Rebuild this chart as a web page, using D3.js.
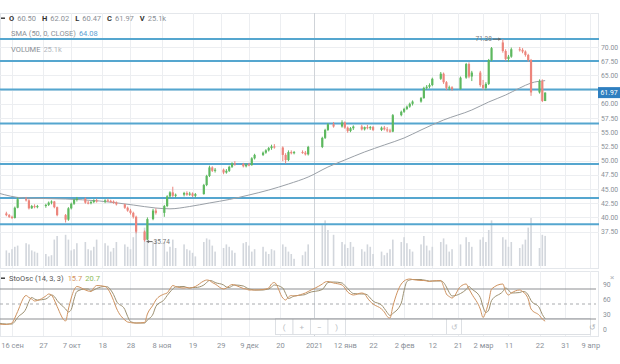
<!DOCTYPE html>
<html><head><meta charset="utf-8">
<script src="https://cdn.jsdelivr.net/npm/d3@7"></script>
<style>
body{margin:0;background:#fff}
svg{display:block;font-family:Roboto,"Noto Sans",sans-serif}
</style>
</head><body>
<svg id="c" width="620" height="364"></svg>
<script>
// ---------- DATA ----------
const dates = [
"2020-09-11","2020-09-14","2020-09-15","2020-09-16","2020-09-17","2020-09-18",
"2020-09-21","2020-09-22","2020-09-23","2020-09-24","2020-09-25",
"2020-09-28","2020-09-29","2020-09-30","2020-10-01","2020-10-02",
"2020-10-05","2020-10-06","2020-10-07","2020-10-08","2020-10-09",
"2020-10-12","2020-10-13","2020-10-14","2020-10-15","2020-10-16",
"2020-10-19","2020-10-20","2020-10-21","2020-10-22","2020-10-23",
"2020-10-26","2020-10-27","2020-10-28","2020-10-29","2020-10-30",
"2020-11-02","2020-11-03","2020-11-05","2020-11-06",
"2020-11-09","2020-11-10","2020-11-11","2020-11-12","2020-11-13",
"2020-11-16","2020-11-17","2020-11-18","2020-11-19","2020-11-20",
"2020-11-23","2020-11-24","2020-11-25","2020-11-26","2020-11-27",
"2020-11-30","2020-12-01","2020-12-02","2020-12-03","2020-12-04",
"2020-12-07","2020-12-08","2020-12-09","2020-12-10","2020-12-11",
"2020-12-14","2020-12-15","2020-12-16","2020-12-17","2020-12-18",
"2020-12-21","2020-12-22","2020-12-23","2020-12-24","2020-12-25",
"2020-12-28","2020-12-29","2020-12-30",
"2021-01-04","2021-01-05","2021-01-06","2021-01-08",
"2021-01-11","2021-01-12","2021-01-13","2021-01-14","2021-01-15",
"2021-01-18","2021-01-19","2021-01-20","2021-01-21","2021-01-22",
"2021-01-25","2021-01-26","2021-01-27","2021-01-28","2021-01-29",
"2021-02-01","2021-02-02","2021-02-03","2021-02-04","2021-02-05",
"2021-02-08","2021-02-09","2021-02-10","2021-02-11","2021-02-12",
"2021-02-15","2021-02-16","2021-02-17","2021-02-18","2021-02-19",
"2021-02-22","2021-02-24","2021-02-25","2021-02-26",
"2021-03-01","2021-03-02","2021-03-03","2021-03-04","2021-03-05",
"2021-03-09","2021-03-10","2021-03-11","2021-03-12",
"2021-03-15","2021-03-16","2021-03-17","2021-03-18","2021-03-19",
"2021-03-22","2021-03-23","2021-03-24"];

const open = [
41.0,40.7,40.4,40.1,39.9,41.7, 43.2,43.0,41.6,42.0,41.8, 42.0,42.2,42.6,42.8,41.8,
40.4,39.6,41.6,42.4,43.1, 43.3,42.6,42.5,42.7,43.0, 42.8,43.0,42.9,42.8,42.6,
42.3,41.7,41.2,40.8,40.1, 37.5,36.1,39.7,41.2, 40.8,42.0,43.7,44.4,43.8,
44.0,44.3,44.0,44.2,43.8, 44.1,45.7,47.3,48.8,48.2, 48.4,47.9,48.2,48.9,49.5,
49.4,49.0,49.3,49.2,50.4, 51.0,51.4,51.8,52.2,52.5, 52.3,51.0,50.1,51.5,51.3,
51.5,51.4,51.1, 52.4,54.0,55.4,56.4, 56.0,56.7,55.8,55.2,55.7,
56.0,55.5,55.9,55.7,55.9, 55.4,55.8,55.5,55.3,55.1, 58.0,58.6,59.1,59.5,60.0,
60.4,61.0,62.8,63.0,63.3, 64.4,65.3,63.8,62.8,62.9, 62.6,64.6,67.0,64.8,
65.5,63.3,62.8,63.5,67.7, 70.8,69.3,67.9,68.3, 69.6,69.5,69.2,68.6,67.7,
62.0,64.0,60.50];
const high = [
41.3,41.0,40.6,40.3,41.9,43.5, 43.6,43.2,42.2,42.3,42.2, 42.4,42.8,43.0,42.9,41.9,
40.6,41.8,42.6,43.3,43.6, 43.5,42.9,42.9,43.2,43.3, 43.2,43.3,43.1,43.0,42.8,
42.4,41.9,41.5,41.0,40.3, 37.7,40.0,41.5,41.6, 42.2,43.9,44.6,45.4,44.2,
44.5,44.6,44.5,44.4,44.3, 45.9,47.5,49.1,49.0,48.7, 48.6,48.5,49.1,49.7,49.9,
49.6,49.5,49.6,50.6,51.2, 51.6,52.0,52.4,52.8,52.9, 52.5,51.3,51.8,51.8,51.7,
51.8,51.7,52.6, 54.2,55.6,56.6,56.8, 57.1,56.9,56.0,55.9,56.2,
56.3,56.0,56.3,56.1,56.1, 56.0,56.1,55.9,55.6,58.2, 58.8,59.3,59.7,60.2,60.6,
61.2,63.0,63.3,63.6,64.6, 65.6,65.5,64.0,63.2,63.1, 64.8,67.2,67.3,65.8,
65.8,64.2,63.8,67.9,70.0, 71.38,69.6,68.6,69.9, 70.0,69.8,69.4,68.8,67.9,
64.3,64.3,62.02];
const low = [
40.5,40.2,39.9,39.7,39.8,41.6, 42.8,41.4,41.5,41.6,41.6, 41.7,42.0,42.3,41.6,40.2,
39.1,39.4,41.4,42.2,42.8, 42.4,42.3,42.3,42.5,42.6, 42.5,42.7,42.6,42.4,42.1,
41.5,41.0,40.5,39.8,37.2, 35.74,36.0,39.5,40.5, 40.1,41.8,43.4,43.6,43.5,
43.7,43.8,43.8,43.6,43.5, 44.0,45.5,47.1,48.0,47.9, 47.6,47.7,48.0,48.7,49.1,
48.8,48.8,49.0,49.1,50.2, 50.8,51.2,51.6,51.9,52.1, 49.9,49.5,49.9,51.1,51.1,
51.2,50.9,50.9, 52.2,53.8,55.2,55.8, 55.8,55.6,54.9,55.0,55.4,
55.3,55.3,55.5,55.4,55.2, 55.2,55.3,55.0,54.9,55.0, 57.8,58.4,58.9,59.3,59.7,
60.2,60.9,62.5,62.7,63.1, 64.2,63.5,62.4,62.4,62.3, 62.5,64.4,64.5,64.0,
63.0,62.5,62.4,63.3,67.5, 69.0,67.6,67.4,68.1, 69.2,68.9,68.3,67.4,61.4,
61.8,60.3,60.47];
const close = [
40.7,40.4,40.1,39.9,41.7,43.2, 43.0,41.6,42.0,41.8,42.0, 42.2,42.6,42.8,41.8,40.4,
39.6,41.6,42.4,43.1,43.3, 42.6,42.5,42.7,43.0,42.8, 43.0,42.9,42.8,42.6,42.3,
41.7,41.2,40.8,40.1,37.5, 36.0,39.7,41.2,40.8, 42.0,43.7,44.4,43.8,44.0,
44.3,44.0,44.2,43.8,44.1, 45.7,47.3,48.8,48.2,48.4, 47.9,48.2,48.9,49.5,49.4,
49.0,49.3,49.2,50.4,51.0, 51.4,51.8,52.2,52.5,52.3, 51.0,50.1,51.5,51.3,51.5,
51.4,51.1,52.4, 54.0,55.4,56.4,56.0, 56.7,55.8,55.2,55.7,56.0,
55.5,55.9,55.7,55.9,55.4, 55.8,55.5,55.3,55.1,58.0, 58.6,59.1,59.5,60.0,60.4,
61.0,62.8,63.0,63.3,64.4, 65.3,63.8,62.8,62.9,62.6, 64.6,67.0,64.8,65.5,
63.3,62.8,63.5,67.7,69.8, 69.3,67.9,68.3,69.6, 69.5,69.2,68.6,67.7,62.0,
64.0,60.5,61.97];
// volume, thousands
const volume = [
12,13,11,14,16,17, 19,18,13,12,11, 10,8,9,22,25, 26,22,13,14,19, 20,14,13,16,22,
19,17,12,15,20, 18,16,14,24,30, 32,36,20,22, 20,12,16,22,15, 18,14,13,11,8,
20,23,22,17,12, 15,18,16,13,11, 19,20,17,12,14, 16,12,10,14,13, 18,16,12,10,6,
9,12,18, 34,38,30,26, 20,18,15,20,16, 14,12,18,16,10, 12,9,11,14,22,
20,24,19,14,12, 18,25,17,13,16, 20,23,18,12,14, 18,24,20,16,
22,24,20,30,38, 24,22,16,20, 15,18,22,32,40, 15,26,25.1];
// Stochastic %K and %D
const stochK = [
10,9,10,12,22,35, 67,63,60,56,57, 66,70,68,58,45, 16,40,62,78,85, 78,76,75,82,87,
85,80,70,57,42, 18,14,13,12,12, 13,30,48,58, 70,72,80,87,85, 82,83,82,83,85,
96,98,97,93,90, 80,82,86,89,88, 81,80,78,78,78, 79,80,82,90,93, 62,58,64,67,66,
70,72,75, 90,94,95,92, 88,82,74,70,68, 72,70,62,55,50, 40,34,25,22,45,
90,96,99,100,99, 97,97,96,95,96, 97,85,70,65,62, 85,90,80,70,
40,23,35,55,80, 90,75,68,72, 78,75,70,60,40, 27,20,15.7];
const stochD = [
12,10,10,10,15,23, 41,55,63,60,58, 60,64,68,65,57, 40,34,39,60,75, 80,80,76,78,81,
85,84,78,69,56, 39,25,15,13,12, 12,18,30,45, 59,67,74,80,84, 85,83,82,83,83,
88,93,97,96,93, 88,84,83,86,88, 86,83,80,79,78, 78,79,80,84,88, 82,71,61,63,66,
68,69,72, 79,86,93,94, 92,87,81,75,71, 70,70,68,62,56, 48,41,33,27,31,
52,77,95,98,99, 99,98,97,96,96, 96,93,84,73,66, 71,79,85,80,
63,44,33,38,57, 75,82,78,72, 73,75,74,68,57, 42,29,20.7];
// SMA(50)
const smaDates = ["2020-09-11","2020-09-20","2020-10-05","2020-10-17","2020-10-29","2020-11-06",
"2020-11-11","2020-11-18","2020-11-25","2020-12-02","2020-12-09","2020-12-16","2020-12-23",
"2020-12-30","2021-01-06","2021-01-12","2021-01-19","2021-01-26","2021-02-02","2021-02-08",
"2021-02-16","2021-02-26","2021-03-04","2021-03-10","2021-03-15","2021-03-19","2021-03-24"];
const smaValues = [44.30,43.42,43.24,42.89,42.18,41.65,41.51,41.92,42.54,43.15,43.94,44.82,45.88,
47.11,48.87,50.11,51.52,52.75,53.98,55.39,57.15,58.91,60.32,61.55,62.78,63.66,64.08];

const priceTicks = [70,67.5,65,62.5,60,57.5,55,52.5,50,47.5,45,42.5,40,37.5];
const priceLabelTicks = [70,67.5,65,60,57.5,55,52.5,50,47.5,45,42.5,40,37.5];
const levelLines = [71.41,67.54,62.52,56.53,49.4,43.4,38.8];
const xTickDates = ["2020-09-16","2020-09-27","2020-10-07","2020-10-18","2020-10-28","2020-11-08",
"2020-11-19","2020-11-29","2020-12-09","2020-12-20","2021-01-01","2021-01-12","2021-01-22",
"2021-02-02","2021-02-12","2021-02-21","2021-03-02","2021-03-11","2021-03-22","2021-03-31","2021-04-09"];
const xTickLabels = ["16 сен","27","7 окт","18","28","8 ноя","19","29","9 дек","20","2021","12 янв","22",
"2 фев","12","21","2 мар","11","22","31","9 апр"];
const stochTicks = [90,60,30,0];
const stochLevels = [80,20];
const stochMid = 50;

// ---------- SETUP ----------
const parse = d3.timeParse("%Y-%m-%d");
const bars = dates.map((d,i)=>({date:parse(d),o:open[i],h:high[i],l:low[i],c:close[i],v:volume[i],k:stochK[i],d:stochD[i]}));
const svg = d3.select("#c");
const PR = 599; // plot right
const MT = 13, MB = 268; // main panel top/bottom
const ST = 271, SB = 336; // stoch panel

const x = d3.scaleTime().domain([parse("2020-09-16"), parse("2021-03-22")]).range([12, 539.5]);
const y = d3.scaleLinear().domain([37.5,70]).range([231.6,47]);
const yv = d3.scaleLinear().domain([0,40]).range([266,218]);
const ys = d3.scaleLinear().domain([0,100]).range([329,279]);

const defs = svg.append("defs");
defs.append("clipPath").attr("id","mclip").append("rect").attr("x",0).attr("y",MT).attr("width",PR).attr("height",MB-MT);
defs.append("clipPath").attr("id","sclip").append("rect").attr("x",0).attr("y",ST).attr("width",PR-3).attr("height",SB-ST);

const tickDates = xTickDates.map(parse);
const gridC = "#eceef1";

// panel frames
svg.append("rect").attr("x",0.5).attr("y",MT+0.5).attr("width",PR-1).attr("height",MB-MT).attr("fill","none").attr("stroke","#e4e7eb");
svg.append("rect").attr("x",0.5).attr("y",ST+0.5).attr("width",PR-1).attr("height",SB-ST).attr("fill","none").attr("stroke","#e4e7eb");

// grid
const grid = svg.append("g");
grid.selectAll(".hg").data(priceTicks).join("line")
  .attr("x1",0).attr("x2",PR).attr("y1",d=>Math.round(y(d))+0.5).attr("y2",d=>Math.round(y(d))+0.5)
  .attr("stroke",gridC);
grid.selectAll(".vg").data(tickDates.filter(d=>x(d)<PR)).join("line")
  .attr("x1",d=>Math.round(x(d))+0.5).attr("x2",d=>Math.round(x(d))+0.5)
  .attr("y1",MT).attr("y2",MB).attr("stroke",(d,i)=>xTickLabels[i]==="2021"?"#cfd3d8":gridC);
grid.selectAll(".vgs").data(tickDates.filter(d=>x(d)<PR-3)).join("line")
  .attr("x1",d=>Math.round(x(d))+0.5).attr("x2",d=>Math.round(x(d))+0.5)
  .attr("y1",ST).attr("y2",SB).attr("stroke",(d,i)=>xTickLabels[i]==="2021"?"#cfd3d8":gridC);

// main content
const main = svg.append("g").attr("clip-path","url(#mclip)");
main.selectAll(".vol").data(bars).join("rect")
  .attr("x",d=>x(d.date)-0.8).attr("width",1.6)
  .attr("y",d=>yv(d.v)).attr("height",d=>yv(0)-yv(d.v))
  .attr("fill","#d2d6dc");

main.selectAll(".lvl").data(levelLines).join("line")
  .attr("x1",0).attr("x2",PR).attr("y1",d=>y(d)).attr("y2",d=>y(d))
  .attr("stroke","#55a6cf").attr("stroke-width",2);

const smaData = smaDates.map((d,i)=>({date:parse(d),v:smaValues[i]}));
main.append("path").datum(smaData)
  .attr("d",d3.line().x(d=>x(d.date)).y(d=>y(d.v)).curve(d3.curveMonotoneX))
  .attr("fill","none").attr("stroke","#9aa0a7").attr("stroke-width",1);

const up = "#5db85f", dn = "#ec857c";
const cg = main.selectAll(".cdl").data(bars).join("g");
cg.append("line")
  .attr("x1",d=>x(d.date)).attr("x2",d=>x(d.date))
  .attr("y1",d=>y(d.h)).attr("y2",d=>y(d.l))
  .attr("stroke",d=>d.c>=d.o?up:dn).attr("stroke-width",1);
cg.append("rect")
  .attr("x",d=>x(d.date)-1.1).attr("width",2.2)
  .attr("y",d=>y(Math.max(d.o,d.c))).attr("height",d=>Math.max(1,Math.abs(y(d.o)-y(d.c))))
  .attr("fill",d=>d.c>=d.o?up:dn);

// high/low annotations
const hiB = bars[d3.maxIndex(bars,d=>d.h)], loB = bars[d3.minIndex(bars,d=>d.l)];
const ann = svg.append("g").attr("font-size",6.5).attr("fill","#777");
ann.append("text").attr("x",x(hiB.date)-11).attr("y",y(hiB.h)+2.3).attr("text-anchor","end").text(d3.format(".2f")(hiB.h));
ann.append("line").attr("x1",x(hiB.date)-10).attr("x2",x(hiB.date)-2).attr("y1",y(hiB.h)).attr("y2",y(hiB.h)).attr("stroke","#666");
ann.append("path").attr("d",`M${x(hiB.date)-2},${y(hiB.h)} l-2.5,-1.6 v3.2z`).attr("fill","#666");
ann.append("text").attr("x",x(loB.date)+9).attr("y",y(loB.l)+2.3).text(d3.format(".2f")(loB.l));
ann.append("line").attr("x1",x(loB.date)+2).attr("x2",x(loB.date)+8).attr("y1",y(loB.l)).attr("y2",y(loB.l)).attr("stroke","#666");
ann.append("path").attr("d",`M${x(loB.date)+2},${y(loB.l)} l2.5,-1.6 v3.2z`).attr("fill","#666");

// price axis
const ya = svg.append("g").attr("transform",`translate(${PR},0)`)
  .call(d3.axisRight(y).tickValues(priceLabelTicks).tickFormat(d3.format(".2f")).tickSize(0).tickPadding(2));
ya.select(".domain").remove();
ya.selectAll("text").attr("fill","#8b9199").attr("font-size",6.8).attr("font-family","Roboto,sans-serif");

// last price box
const last = bars[bars.length-1];
svg.append("rect").attr("x",598).attr("y",y(last.c)-5.5).attr("width",22).attr("height",11).attr("fill","#2f7fc0");
svg.append("text").attr("x",600.5).attr("y",y(last.c)+2.5).attr("fill","#fff").attr("font-size",6.8).text(d3.format(".2f")(last.c));

// legend
const lg = svg.append("g").attr("font-size",7.5);
lg.append("rect").attr("x",1).attr("y",17.5).attr("width",4).attr("height",1.4).attr("fill","#333");
const l1 = lg.append("text").attr("x",9).attr("y",21);
const fields = [["O",last.o],["H",last.h],["L",last.l],["C",last.c]];
fields.forEach(([k,v],i)=>{
  l1.append("tspan").attr("dx",i?6:0).attr("font-weight","bold").attr("fill","#333").text(k);
  l1.append("tspan").attr("dx",3).attr("fill","#8a8f96").text(d3.format(".2f")(v));
});
l1.append("tspan").attr("dx",6).attr("font-weight","bold").attr("fill","#333").text("V");
l1.append("tspan").attr("dx",3).attr("fill","#8a8f96").text(last.v+"k");
const l2 = lg.append("text").attr("x",11).attr("y",35.5).attr("fill","#8a8f96");
l2.append("tspan").text("SMA (50, 0, CLOSE)");
l2.append("tspan").attr("dx",3).attr("fill","#5d9fd3").text(d3.format(".2f")(smaValues[smaValues.length-1]));
const l3 = lg.append("text").attr("x",11).attr("y",51.5).attr("fill","#8a8f96");
l3.append("tspan").text("VOLUME");
l3.append("tspan").attr("dx",3).attr("fill","#b3b7bd").text(last.v+"k");

// stoch panel
const sg = svg.append("g");
// toolbar
const tb = sg.append("g").attr("stroke","#dde0e4").attr("fill","#fff");
tb.append("rect").attr("x",275.5).attr("y",318.5).attr("width",315).attr("height",16);
["(","+","−",")"].forEach((s,i)=>{
  tb.append("rect").attr("x",275.5+i*17.5).attr("y",318.5).attr("width",17.5).attr("height",16);
  sg.append("text").attr("x",284.2+i*17.5).attr("y",329.5).attr("text-anchor","middle").attr("font-size",8).attr("fill","#b8bcc2").text(s);
});
tb.append("rect").attr("x",446.5).attr("y",318.5).attr("width",15).attr("height",16);
sg.append("text").attr("x",454).attr("y",329.5).attr("text-anchor","middle").attr("font-size",8).attr("fill","#c0c4c9").text("↺");
sg.append("text").attr("x",592).attr("y",329.5).attr("text-anchor","middle").attr("font-size",8).attr("fill","#b0b4ba").text("↺");

const sc = sg.append("g").attr("clip-path","url(#sclip)");
sc.selectAll(".slv").data(stochLevels).join("line")
  .attr("x1",0).attr("x2",PR).attr("y1",d=>ys(d)).attr("y2",d=>ys(d)).attr("stroke","#8d8f92").attr("stroke-width",1);
sc.append("line").attr("x1",0).attr("x2",PR).attr("y1",ys(stochMid)).attr("y2",ys(stochMid))
  .attr("stroke","#a9abae").attr("stroke-dasharray","3,3");
sc.append("path").datum(bars).attr("d",d3.line().x(d=>x(d.date)).y(d=>ys(d.d)).curve(d3.curveMonotoneX))
  .attr("fill","none").attr("stroke","#9c9071").attr("stroke-width",1);
sc.append("path").datum(bars).attr("d",d3.line().x(d=>x(d.date)).y(d=>ys(d.k)).curve(d3.curveMonotoneX))
  .attr("fill","none").attr("stroke","#cf9360").attr("stroke-width",1);

const sh = sg.append("text").attr("x",9).attr("y",281).attr("font-size",7.5);
sg.append("rect").attr("x",1).attr("y",277.5).attr("width",4).attr("height",1.4).attr("fill","#333");
sh.append("tspan").attr("fill","#555").text("StoOsc (14, 3, 3)");
sh.append("tspan").attr("dx",4).attr("fill","#d49260").text(last.k);
sh.append("tspan").attr("dx",3).attr("fill","#8dbb5a").text(last.d);
sg.append("text").attr("x",610).attr("y",280).attr("font-size",8).attr("fill","#b0b4ba").text("×");

const sa = sg.append("g").attr("transform",`translate(${PR},0)`)
  .call(d3.axisRight(ys).tickValues(stochTicks).tickSize(0).tickPadding(4));
sa.select(".domain").remove();
sa.selectAll("text").attr("fill","#8b9199").attr("font-size",6.8).attr("font-family","Roboto,sans-serif");

// x axis
const xa = svg.append("g").attr("transform",`translate(0,${SB+4})`)
  .call(d3.axisBottom(x).tickValues(tickDates).tickFormat((d,i)=>xTickLabels[i]).tickSize(0).tickPadding(3));
xa.select(".domain").remove();
xa.selectAll("text").attr("fill","#8b9199").attr("font-size",7.5).attr("font-family","Roboto,sans-serif");
</script>
</body></html>
